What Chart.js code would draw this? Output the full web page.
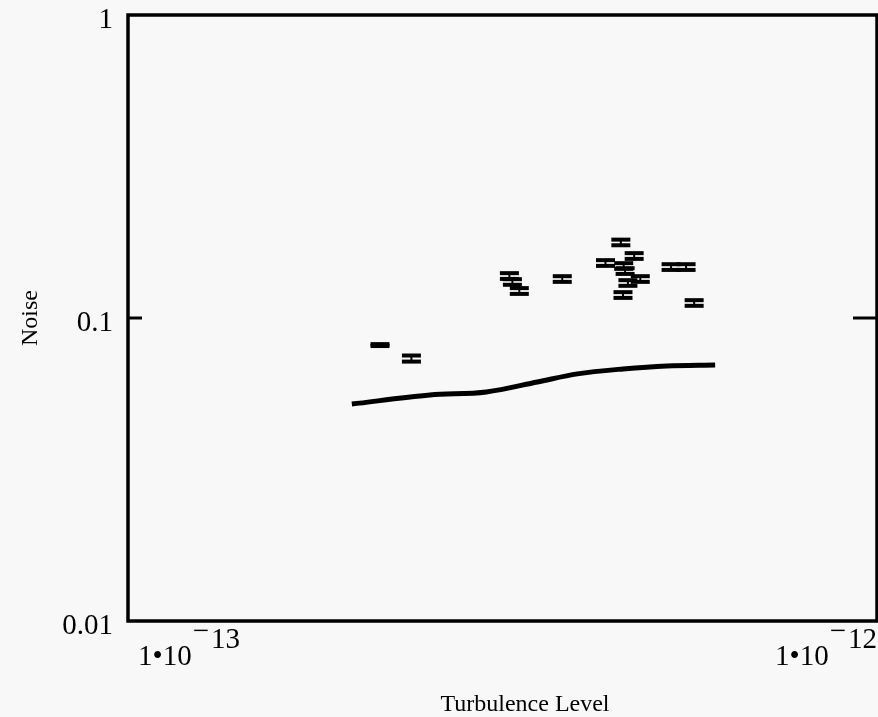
<!DOCTYPE html>
<html>
<head>
<meta charset="utf-8">
<script src="https://cdn.jsdelivr.net/npm/chart.js@4.4.0/dist/chart.umd.min.js"></script>
<style>
  html, body { margin: 0; padding: 0; background: #f8f8f8; }
  #wrap { width: 878px; height: 717px; }
</style>
</head>
<body>
<div id="wrap"><canvas id="noiseChart" width="878" height="717"></canvas></div>
<script>
// ===== Data =====
// theory curve
const curveX = [1.99e-13, 2.53e-13, 3.01e-13, 3.52e-13, 3.98e-13, 4.58e-13, 5.24e-13, 6.08e-13];
const curveY = [0.0520, 0.0557, 0.0570, 0.0615, 0.0654, 0.0679, 0.0695, 0.0700];

// measured points with error bars
const noiseX = [2.17e-13, 2.39e-13, 3.23e-13, 3.26e-13, 3.33e-13, 3.80e-13, 4.55e-13, 4.74e-13, 4.34e-13,
                4.59e-13, 4.61e-13, 4.83e-13, 4.65e-13, 4.58e-13, 5.31e-13, 5.56e-13, 5.70e-13];
const noiseY = [0.0814, 0.0735, 0.1376, 0.1315, 0.1228, 0.1345, 0.1776, 0.1602, 0.1519,
                0.1485, 0.1429, 0.1345, 0.1305, 0.1191, 0.1473, 0.1473, 0.1121];
const noiseErr = [0.0006, 0.0017, 0.0030, 0.0028, 0.0027, 0.0029, 0.0038, 0.0035, 0.0033,
                  0.0032, 0.0031, 0.0029, 0.0028, 0.0026, 0.0032, 0.0032, 0.0024];

// ===== Axes =====
const xTicks = [1e-13, 1e-12];
const xTickExp = ['13', '12'];
const yTicks = [0.01, 0.1, 1];

const SERIF = '"Liberation Serif", "Times New Roman", serif';

// ===== Plot frame, inside ticks and power-of-ten labels =====
const framePlugin = {
    id: 'frame',
    afterDraw(chart) {
        const { ctx, chartArea: a, scales } = chart;
        ctx.save();
        ctx.strokeStyle = '#000';
        ctx.lineWidth = 3.5;
        ctx.strokeRect(a.left, a.top, a.right - a.left, a.bottom - a.top);

        // tick at 0.1 on both sides
        const y1 = scales.y.getPixelForValue(0.1);
        ctx.lineWidth = 3;
        ctx.beginPath();
        ctx.moveTo(a.left, y1); ctx.lineTo(a.left + 14, y1);
        ctx.moveTo(a.right - 24, y1); ctx.lineTo(a.right, y1);
        ctx.stroke();

        // x labels 1•10^-n
        ctx.fillStyle = '#000';
        ctx.textBaseline = 'alphabetic';
        ctx.textAlign = 'left';
        ctx.font = '29px ' + SERIF;
        xTicks.forEach((v, i) => {
            const px = scales.x.getPixelForValue(v);
            const base = '1\u202210';
            const wBase = ctx.measureText(base).width;
            const wMinus = ctx.measureText('\u2212').width + 3;
            const wExp = ctx.measureText(xTickExp[i]).width;
            const total = wBase + wMinus + wExp;
            const x0 = i === 0 ? px + 10 : px - total;
            ctx.fillText(base, x0, 665);
            ctx.fillText('\u2212', x0 + wBase + 1, 640);
            ctx.fillText(xTickExp[i], x0 + wBase + wMinus, 648);
        });

        // x axis title
        ctx.textAlign = 'center';
        ctx.font = '24px ' + SERIF;
        ctx.fillText('Turbulence Level', 525, 711);
        ctx.restore();
    }
};

// ===== Chart =====
const capPoints = noiseX.flatMap((x, i) => [
    { x, y: noiseY[i] - noiseErr[i] },
    { x, y: noiseY[i] + noiseErr[i] }
]);
const stemPoints = noiseX.flatMap((x, i) => [
    { x, y: noiseY[i] - noiseErr[i] },
    { x, y: noiseY[i] + noiseErr[i] },
    { x, y: null }
]);

const ctx = document.getElementById('noiseChart').getContext('2d');
new Chart(ctx, {
    type: 'scatter',
    data: {
        datasets: [
            {
                label: 'theory',
                data: curveX.map((x, i) => ({ x, y: curveY[i] })),
                showLine: true,
                borderColor: '#000',
                borderWidth: 5,
                pointRadius: 0,
                cubicInterpolationMode: 'monotone'
            },
            {
                label: 'caps',
                data: capPoints,
                pointStyle: 'line',
                pointRadius: 9.5,
                borderColor: '#000',
                borderWidth: 4
            },
            {
                label: 'stems',
                data: stemPoints,
                showLine: true,
                spanGaps: false,
                borderColor: '#000',
                borderWidth: 2,
                pointRadius: 0
            }
        ]
    },
    options: {
        responsive: false,
        animation: false,
        layout: { autoPadding: false, padding: { top: 15, right: 1, left: 0, bottom: 0 } },
        plugins: { legend: { display: false }, tooltip: { enabled: false } },
        scales: {
            x: {
                type: 'logarithmic',
                min: 1e-13,
                max: 1e-12,
                grid: { display: false },
                border: { display: false },
                ticks: { display: false },
                afterFit: (scale) => {
                    scale.height = 96;
                    scale.paddingLeft = 0; scale.paddingRight = 0;
                }
            },
            y: {
                type: 'logarithmic',
                min: 0.01,
                max: 1,
                grid: { display: false, drawTicks: false },
                border: { display: false },
                afterBuildTicks: (scale) => { scale.ticks = yTicks.map(v => ({ value: v })); },
                ticks: {
                    color: '#000',
                    font: { family: SERIF, size: 29 },
                    padding: 15,
                    labelOffset: 5,
                    callback: (v) => String(v)
                },
                title: {
                    display: true,
                    text: 'Noise',
                    color: '#000',
                    font: { family: SERIF, size: 24 },
                    padding: { top: 16, bottom: 0 }
                },
                afterFit: (scale) => {
                    scale.width = 128;
                    scale.paddingTop = 0; scale.paddingBottom = 0;
                }
            }
        }
    },
    plugins: [framePlugin]
});
</script>
</body>
</html>
